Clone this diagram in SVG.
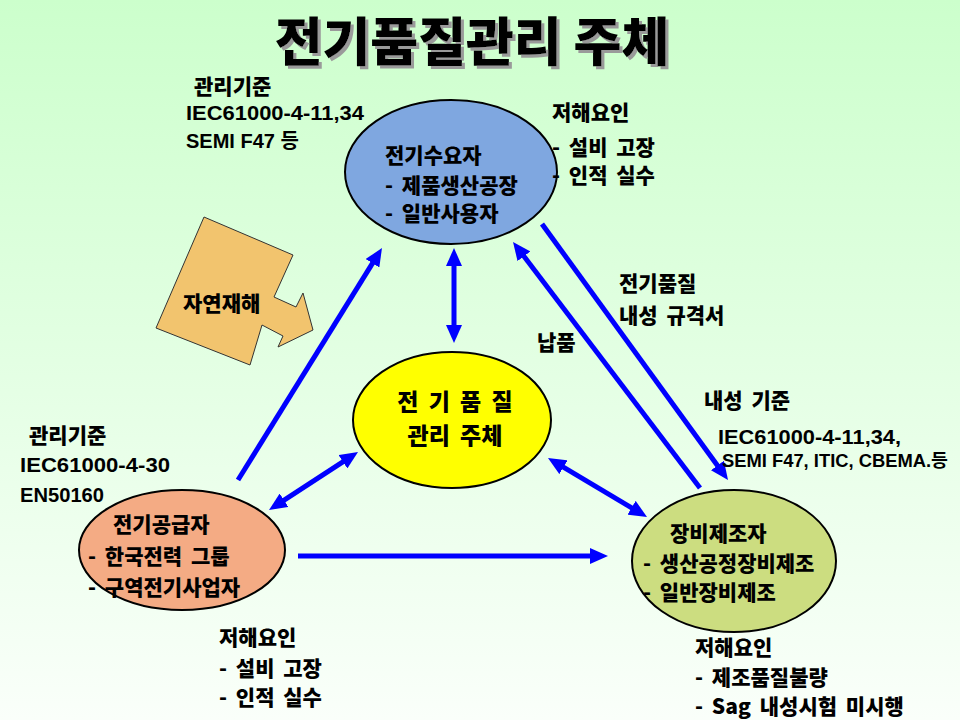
<svg xmlns="http://www.w3.org/2000/svg" width="960" height="720" viewBox="0 0 960 720">
  <defs>
    <linearGradient id="bg" x1="0" y1="0" x2="0" y2="1">
      <stop offset="0" stop-color="#CCFFCC"/>
      <stop offset="1" stop-color="#FAFFFA"/>
    </linearGradient>
    <filter id="shadow" x="-10%" y="-20%" width="120%" height="150%">
      <feOffset in="SourceAlpha" dx="3" dy="3" result="o"/>
      <feFlood flood-color="#9a9a9a"/>
      <feComposite in2="o" operator="in" result="s"/>
      <feMerge><feMergeNode in="s"/><feMergeNode in="SourceGraphic"/></feMerge>
    </filter>
    <marker id="ah" viewBox="0 0 18 16" refX="4" refY="8" markerWidth="18" markerHeight="16" markerUnits="userSpaceOnUse" orient="auto-start-reverse">
      <path d="M0,0 L18,8 L0,16 z" fill="#0000FF"/>
    </marker>
    <style>
      .t { font-family: "Noto Sans CJK KR", "Liberation Sans", sans-serif; font-weight: 900; font-size: 21px; word-spacing: 4px; fill: #000; }
      .l { font-family: "Liberation Sans", "Noto Sans CJK KR", sans-serif; font-weight: 700; font-size: 20px; word-spacing: 0; fill: #000; }
      .s { font-size: 18px; }
      .c { text-anchor: middle; font-size: 23px; word-spacing: 5px; }
      .title { font-family: "Noto Sans CJK KR", "Liberation Sans", sans-serif; font-weight: 900; font-size: 52px; fill: #000; text-anchor: middle; }
      .node { stroke: #000; stroke-width: 2; }
      .a { stroke: #0000FF; stroke-width: 5; fill: none; }
    </style>
  </defs>

  <rect x="0" y="0" width="960" height="720" fill="url(#bg)"/>

  <text class="title" x="472" y="61" filter="url(#shadow)">전기품질관리 주체</text>

  <g id="connectors">
    <line class="a" x1="238" y1="480" x2="374.6" y2="259.9" marker-end="url(#ah)"/>
    <line class="a" x1="454" y1="262" x2="454" y2="329" marker-start="url(#ah)" marker-end="url(#ah)"/>
    <line class="a" x1="700" y1="488" x2="521.5" y2="253.1" marker-end="url(#ah)"/>
    <line class="a" x1="542" y1="224" x2="719.8" y2="468.7" marker-end="url(#ah)"/>
    <line class="a" x1="346.3" y1="459.6" x2="280.7" y2="502.4" marker-start="url(#ah)" marker-end="url(#ah)"/>
    <line class="a" x1="560" y1="465.2" x2="635" y2="509.8" marker-start="url(#ah)" marker-end="url(#ah)"/>
    <line class="a" x1="298" y1="556" x2="594" y2="556" marker-end="url(#ah)"/>
  </g>

  <g id="disaster">
    <polygon points="204,217 293,255 274,297 296,307 303,293 313,330 278,347 283,336 262,325 250,365 156,328" fill="#F2C46E" stroke="#333" stroke-width="1"/>
    <text class="t" x="183" y="311">자연재해</text>
  </g>

  <g id="consumer">
    <ellipse class="node" cx="451" cy="172" rx="106" ry="72" fill="#7FA7E0"/>
    <text class="t" x="385" y="163">전기수요자</text>
    <text class="t" x="385" y="193">- 제품생산공장</text>
    <text class="t" x="385" y="221">- 일반사용자</text>
  </g>

  <g id="consumer-notes">
    <text class="t" x="194" y="94">관리기준</text>
    <text class="l" x="186" y="120" textLength="178" lengthAdjust="spacingAndGlyphs">IEC61000-4-11,34</text>
    <text class="l" x="186" y="148">SEMI F47 등</text>
    <text class="t" x="552" y="120">저해요인</text>
    <text class="t" x="552" y="155">- 설비 고장</text>
    <text class="t" x="552" y="183">- 인적 실수</text>
  </g>

  <g id="center">
    <ellipse class="node" cx="452" cy="420" rx="99" ry="68" fill="#FFFF00"/>
    <text class="t c" x="455" y="410">전 기 품 질</text>
    <text class="t c" x="455" y="444">관리 주체</text>
  </g>

  <g id="link-notes">
    <text class="t" x="619" y="291">전기품질</text>
    <text class="t" x="619" y="323">내성 규격서</text>
    <text class="t" x="537" y="350">납품</text>
    <text class="t" x="704" y="408">내성 기준</text>
    <text class="l" x="718" y="444" textLength="183" lengthAdjust="spacingAndGlyphs">IEC61000-4-11,34,</text>
    <text class="l s" x="722" y="467" textLength="226" lengthAdjust="spacingAndGlyphs">SEMI F47, ITIC, CBEMA.등</text>
  </g>

  <g id="supplier">
    <ellipse class="node" cx="182" cy="550" rx="103" ry="60" fill="#F4AB84"/>
    <text class="t" x="113" y="532">전기공급자</text>
    <text class="t" x="88" y="564">- 한국전력 그룹</text>
    <text class="t" x="88" y="595">- 구역전기사업자</text>
  </g>

  <g id="supplier-notes">
    <text class="t" x="29" y="443">관리기준</text>
    <text class="l" x="20" y="472" textLength="150" lengthAdjust="spacingAndGlyphs">IEC61000-4-30</text>
    <text class="l" x="20" y="502" textLength="84" lengthAdjust="spacingAndGlyphs">EN50160</text>
    <text class="t" x="219" y="645">저해요인</text>
    <text class="t" x="219" y="676">- 설비 고장</text>
    <text class="t" x="219" y="705">- 인적 실수</text>
  </g>

  <g id="manufacturer">
    <ellipse class="node" cx="734" cy="561" rx="102" ry="71" fill="#CCDD80"/>
    <text class="t" x="670" y="541">장비제조자</text>
    <text class="t" x="643" y="571">- 생산공정장비제조</text>
    <text class="t" x="643" y="600">- 일반장비제조</text>
  </g>

  <g id="manufacturer-notes">
    <text class="t" x="695" y="655">저해요인</text>
    <text class="t" x="695" y="685">- 제조품질불량</text>
    <text class="t" x="695" y="714">- Sag 내성시험 미시행</text>
  </g>
</svg>
